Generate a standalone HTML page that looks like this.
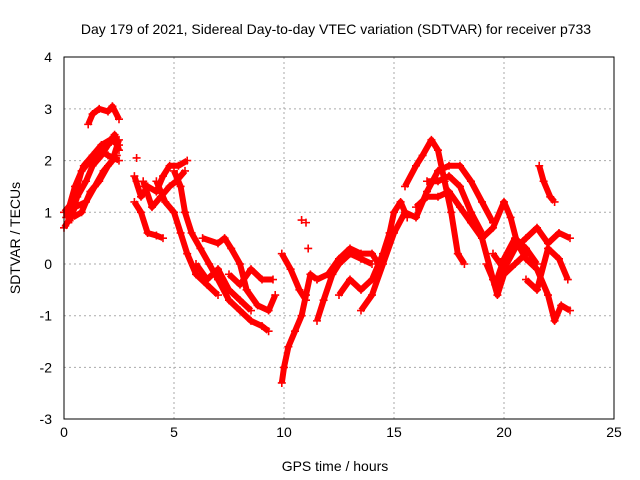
<!DOCTYPE html>
<html><head><meta charset="utf-8"><style>
body{margin:0;background:#fff}
svg{display:block;font-family:"Liberation Sans",sans-serif}
</style></head><body>
<svg id="c" width="640" height="480">
<rect width="640" height="480" fill="#fff"/>
<text x="336" y="34" font-size="14" text-anchor="middle">Day 179 of 2021, Sidereal Day-to-day VTEC variation (SDTVAR) for receiver p733</text>
<text x="335" y="471" font-size="14" text-anchor="middle">GPS time / hours</text>
<text transform="translate(20,238) rotate(-90)" font-size="14" text-anchor="middle">SDTVAR / TECUs</text>
<g id="grid"></g><g id="marks"></g>
<rect x="64" y="57" width="550" height="362" fill="none" stroke="#000"/>
</svg>
<script>
const xTicks=[0,5,10,15,20,25];
const yTicks=[-3,-2,-1,0,1,2,3,4];
const tracks=[
[[0,0.7],[0.3,0.9],[0.6,1.3],[1,1.6],[1.3,1.9],[1.7,2.1],[2,2.3],[2.3,2.5],[2.5,2.2]],
[[0,1.0],[0.4,1.2],[0.8,1.8],[1.2,2.0],[1.6,2.2],[2.0,2.1],[2.5,2.0]],
[[0.1,0.9],[0.5,1.5],[0.9,1.9],[1.3,2.1],[1.7,2.3],[2.1,2.4],[2.5,2.3]],
[[1.1,2.7],[1.3,2.9],[1.6,3.0],[2.0,2.95],[2.2,3.05],[2.5,2.8]],
[[0.2,0.8],[0.5,1.1],[1.0,1.2],[1.4,1.5],[1.8,1.8],[2.2,2.0],[2.5,2.4]],
[[0.4,0.9],[0.8,1.0],[1.2,1.4],[1.6,1.6],[2.0,1.9],[2.4,2.1]],
[[3.2,1.7],[3.5,1.3],[3.8,1.5],[4.2,1.4],[4.5,1.7],[4.8,1.9],[5.2,1.9],[5.6,2.0]],
[[3.2,1.2],[3.5,1.0],[3.8,0.6],[4.2,0.55],[4.5,0.5]],
[[3.6,1.6],[4.0,1.1],[4.4,1.3],[4.8,1.5],[5.1,1.6],[5.5,1.8]],
[[4.2,1.6],[4.6,1.2],[5.0,1.0],[5.3,0.6],[5.6,0.2],[6.0,-0.2],[6.5,-0.4],[7.0,-0.6]],
[[5.0,1.8],[5.3,1.5],[5.5,1.0],[5.8,0.6],[6.2,0.3],[6.6,0.0],[7.0,-0.3],[7.5,-0.7],[8.0,-0.9],[8.5,-1.1],[9.0,-1.2],[9.3,-1.3]],
[[6.3,0.5],[7,0.4],[7.3,0.5],[7.6,0.3],[8.0,0.0],[8.3,-0.5],[8.8,-0.8],[9.3,-0.9],[9.6,-0.6]],
[[6.0,0.0],[6.5,-0.3],[7.0,-0.1],[7.5,-0.5],[8.0,-0.7],[8.5,-0.9]],
[[7.5,-0.2],[8,-0.4],[8.5,-0.1],[9,-0.3],[9.5,-0.3]],
[[9.9,-2.3],[10.0,-2.0],[10.2,-1.6],[10.5,-1.3],[10.8,-1.0],[11.0,-0.6],[11.2,-0.2],[11.5,-0.3]],
[[9.9,0.2],[10.3,-0.1],[10.7,-0.5],[11.0,-0.7]],
[[11.5,-1.1],[11.8,-0.7],[12.2,-0.2],[12.5,0.0],[13,0.2],[13.5,0.1],[14,0.0]],
[[11.5,-0.3],[12,-0.2],[12.5,0.1],[13,0.3],[13.5,0.2],[14,0.2],[14.3,0.0]],
[[12.5,-0.6],[13,-0.3],[13.5,-0.5],[14.0,-0.3],[14.5,0.2],[14.8,0.6],[15,1.0],[15.3,1.2],[15.6,0.9]],
[[13.5,-0.9],[14,-0.6],[14.5,0.0],[15.0,0.6],[15.5,1.0],[16,0.9],[16.5,1.4],[17,1.8],[17.5,1.9],[18,1.9],[18.5,1.6],[19,1.2],[19.5,0.8]],
[[15.5,1.5],[16,1.9],[16.3,2.1],[16.7,2.4],[17.0,2.2],[17.3,1.6],[17.6,1.0],[17.9,0.2],[18.2,0.0]],
[[16.0,1.1],[16.5,1.3],[17.0,1.3],[17.5,1.4],[18.0,1.1],[18.5,0.8],[19,0.5],[19.5,-0.3],[19.7,-0.6],[20,-0.2],[20.5,0.0],[21,0.2]],
[[16.5,1.6],[17,1.6],[17.5,1.7],[18,1.5],[18.5,1.0],[19,0.6]],
[[18.5,1.0],[19,0.5],[19.5,0.7],[20,1.2],[20.3,0.9],[20.6,0.4],[21,0.1],[21.5,-0.1],[22,-0.6],[22.3,-1.1],[22.6,-0.8],[23,-0.9]],
[[19.5,0.2],[20,-0.1],[20.5,0.3],[21,0.5],[21.5,0.7],[22,0.4],[22.5,0.6],[23,0.5]],
[[19.2,0.0],[19.6,-0.4],[20,0.1],[20.5,0.5],[21,0.3],[21.5,0.0]],
[[21.6,1.9],[21.8,1.6],[22.1,1.3],[22.3,1.2]],
[[21,-0.3],[21.5,-0.5],[22,0.3],[22.5,0.1],[22.9,-0.3]]
];
const isolated=[[3.3,2.05],[10.8,0.85],[11.0,0.8],[11.1,0.3],[3.4,1.5],[3.3,1.6]];
const NS="http://www.w3.org/2000/svg";
const X=v=>64+v*22, Y=v=>264-v*(362/7);
const grid=document.getElementById('grid'), marks=document.getElementById('marks');
function mk(t,a,p){const e=document.createElementNS(NS,t);for(const k in a)e.setAttribute(k,a[k]);p.appendChild(e);return e;}
xTicks.forEach(t=>{
 if(t>0&&t<25){const l=mk('line',{x1:X(t),x2:X(t),y1:57,y2:419,stroke:'#aaa','stroke-dasharray':'2,3'},grid);
 
 }
 const tx=mk('text',{x:X(t),y:437,'font-size':14,'text-anchor':'middle'},grid);tx.textContent=t;
 
 
});
yTicks.forEach(t=>{
 if(t>-3&&t<4){const l=mk('line',{x1:64,x2:614,y1:Y(t),y2:Y(t),stroke:'#aaa','stroke-dasharray':'2,3'},grid);
 
 }
 const tx=mk('text',{x:52,y:Y(t)+5,'font-size':14,'text-anchor':'end'},grid);tx.textContent=t;
 
 
});
function plus(x,y){
 const p=mk('path',{d:`M${X(x)-4},${Y(y)}h8M${X(x)},${Y(y)-4}v8`,stroke:'#f00','stroke-width':1.6},marks);
 
 
}
tracks.forEach(tr=>{
 const pl=mk('polyline',{points:tr.map(p=>X(p[0])+','+Y(p[1])).join(' '),fill:'none',stroke:'#f00','stroke-width':6,'stroke-linejoin':'round'},marks);
 
 
 tr.forEach(p=>plus(p[0],p[1]));
});
isolated.forEach(p=>plus(p[0],p[1]));
</script>
</body></html>
